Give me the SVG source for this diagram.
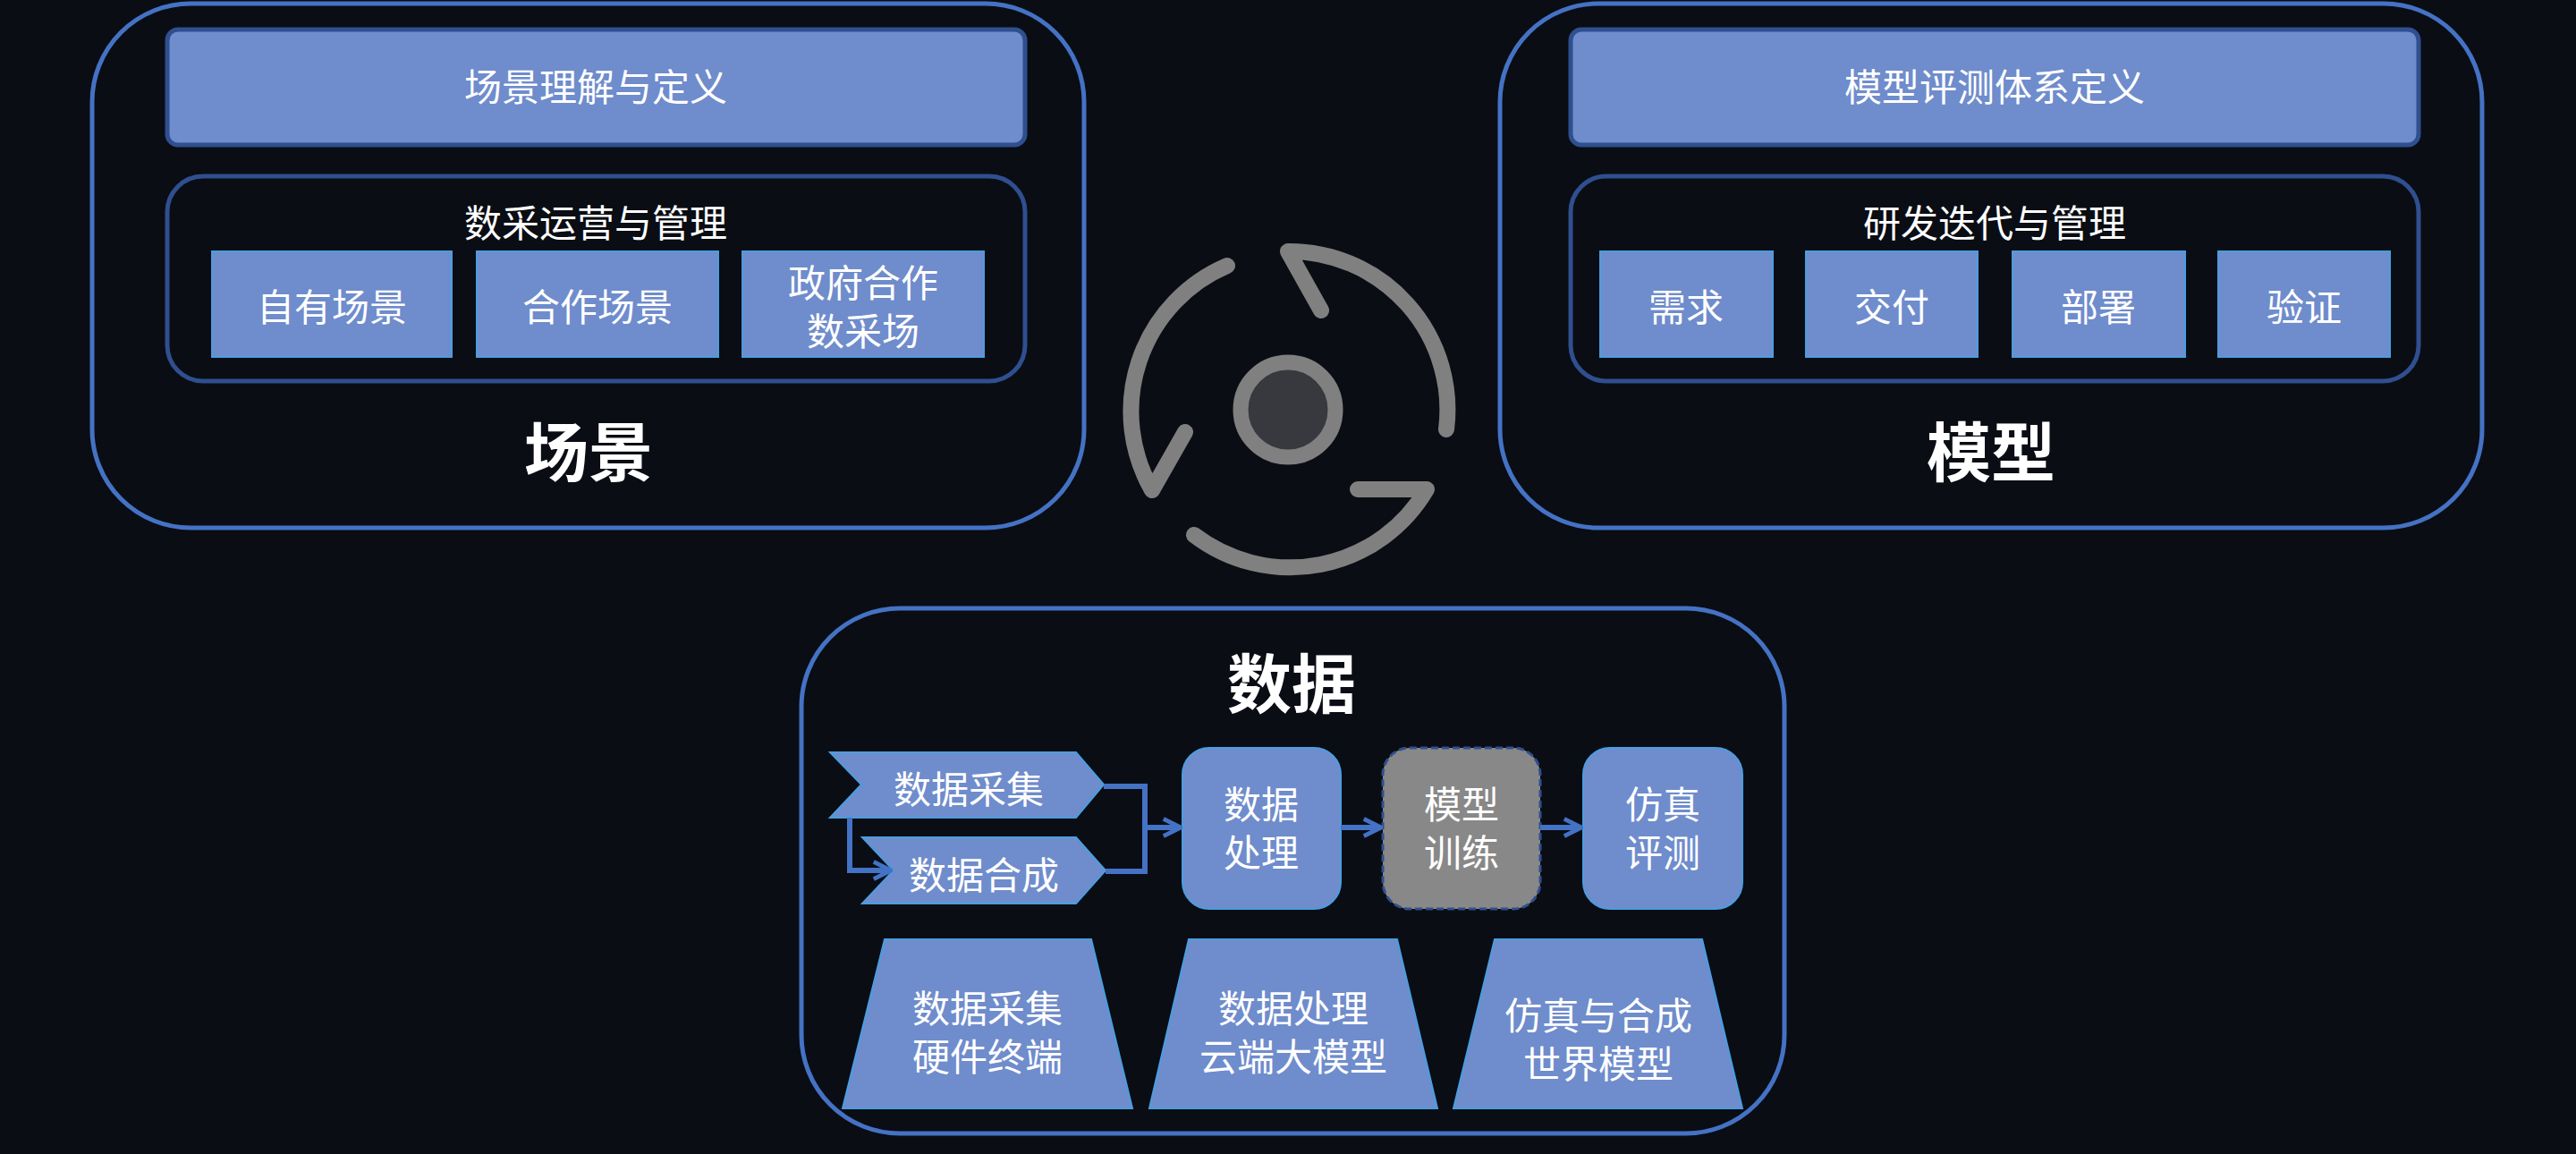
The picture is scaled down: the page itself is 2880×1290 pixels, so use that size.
<svg xmlns="http://www.w3.org/2000/svg" width="2880" height="1290" viewBox="0 0 2880 1290">
<defs>
<style>
text{font-family:"Noto Sans CJK SC","Noto Sans",sans-serif;fill:#fff;text-anchor:middle;dominant-baseline:central}
.big{fill:none;stroke:#4472c4;stroke-width:5}
.hdr{fill:#6f8ccc;stroke:#2f4f8f;stroke-width:5}
.inner{fill:none;stroke:#2f4f8f;stroke-width:5}
.sb{fill:#6f8ccc;stroke:#4a9ee0;stroke-width:2}
.t{font-size:42px}
.b{font-size:72px;font-weight:bold}
.pc{fill:#6f8ccc;stroke:#4a9ee0;stroke-width:2}
.ln{fill:none;stroke:#4472c4;stroke-width:6}
.ic{fill:none;stroke:#808080;stroke-width:18;stroke-linecap:round;stroke-linejoin:round}
</style>
<marker id="ah" viewBox="0 0 10 10" refX="9" refY="5" markerWidth="4" markerHeight="4" orient="auto" markerUnits="strokeWidth"><path d="M1,1 L9,5 L1,9" fill="none" stroke="#4472c4" stroke-width="2"/></marker>
</defs>
<rect width="2880" height="1290" fill="#0a0d14"/>
<g id="scene">
<rect class="big" x="103" y="4" width="1109" height="586" rx="110"/>
<rect class="hdr" x="187" y="33" width="959" height="129" rx="12"/>
<text class="t" x="666" y="94">场景理解与定义</text>
<rect class="inner" x="187" y="197" width="959" height="229" rx="40"/>
<text class="t" x="666" y="246">数采运营与管理</text>
<rect class="sb" x="237" y="281" width="268" height="118"/><text class="t" x="371" y="340">自有场景</text>
<rect class="sb" x="533" y="281" width="270" height="118"/><text class="t" x="668" y="340">合作场景</text>
<rect class="sb" x="830" y="281" width="270" height="118"/><text class="t" x="965" y="313">政府合作</text><text class="t" x="965" y="367">数采场</text>
<text class="b" x="658" y="500">场景</text>
</g>
<g id="model">
<rect class="big" x="1677" y="4" width="1098" height="586" rx="110"/>
<rect class="hdr" x="1756" y="33" width="948" height="129" rx="12"/>
<text class="t" x="2230" y="94">模型评测体系定义</text>
<rect class="inner" x="1756" y="197" width="948" height="229" rx="40"/>
<text class="t" x="2230" y="246">研发迭代与管理</text>
<rect class="sb" x="1789" y="281" width="193" height="118"/><text class="t" x="1885" y="340">需求</text>
<rect class="sb" x="2019" y="281" width="192" height="118"/><text class="t" x="2115" y="340">交付</text>
<rect class="sb" x="2250" y="281" width="193" height="118"/><text class="t" x="2346" y="340">部署</text>
<rect class="sb" x="2480" y="281" width="192" height="118"/><text class="t" x="2576" y="340">验证</text>
<text class="b" x="2226" y="500">模型</text>
</g>
<g id="cycle">
<path class="ic" d="M1372,297 A177,177 0 0 0 1288,548 L1325,483"/>
<path class="ic" d="M1335,598 A177,177 0 0 0 1595,547 L1518,547"/>
<path class="ic" d="M1477,347 L1440,281 A177,177 0 0 1 1617,480"/>
<circle cx="1440" cy="458" r="53" fill="#38393e" stroke="#808080" stroke-width="17"/>
</g>
<g id="data">
<rect class="big" x="896" y="680" width="1099" height="587" rx="110"/>
<text class="b" x="1444" y="759">数据</text>
</g>
<g id="collect"><polygon class="pc" points="928,841 1203,841 1234,877 1203,914 928,914 963,877"/><text class="t" x="1083" y="879">数据采集</text></g>
<g id="synth"><polygon class="pc" points="964,936 1203,936 1236,973 1203,1010 964,1010 999,973"/><text class="t" x="1100" y="975">数据合成</text></g>
<g id="proc"><rect class="pc" x="1322" y="836" width="177" height="180" rx="30"/><text class="t" x="1410" y="896">数据</text><text class="t" x="1410" y="950">处理</text></g>
<g id="train"><rect x="1546" y="836" width="176" height="180" rx="30" fill="#888" stroke="#2f4f8f" stroke-width="3" stroke-dasharray="8,4"/><text class="t" x="1634" y="896">模型</text><text class="t" x="1634" y="950">训练</text></g>
<g id="sim"><rect class="pc" x="1770" y="836" width="178" height="180" rx="30"/><text class="t" x="1859" y="896">仿真</text><text class="t" x="1859" y="950">评测</text></g>
<g id="t1"><polygon class="pc" points="989,1050 1220,1050 1266,1239 942,1239"/><text class="t" x="1104" y="1124">数据采集</text><text class="t" x="1104" y="1178">硬件终端</text></g>
<g id="t2"><polygon class="pc" points="1329,1050 1562,1050 1607,1239 1285,1239"/><text class="t" x="1446" y="1124">数据处理</text><text class="t" x="1446" y="1178">云端大模型</text></g>
<g id="t3"><polygon class="pc" points="1671,1050 1903,1050 1948,1239 1625,1239"/><text class="t" x="1787" y="1132">仿真与合成</text><text class="t" x="1787" y="1186">世界模型</text></g>
<g id="connectors">
<path class="ln" d="M1234,879 H1280 V974 H1236"/>
<path class="ln" d="M1280,925 H1320" marker-end="url(#ah)"/>
<path class="ln" d="M950,914 V973 H996" marker-end="url(#ah)"/>
<path class="ln" d="M1499,925 H1544" marker-end="url(#ah)"/>
<path class="ln" d="M1722,925 H1768" marker-end="url(#ah)"/>
</g>
</svg>
